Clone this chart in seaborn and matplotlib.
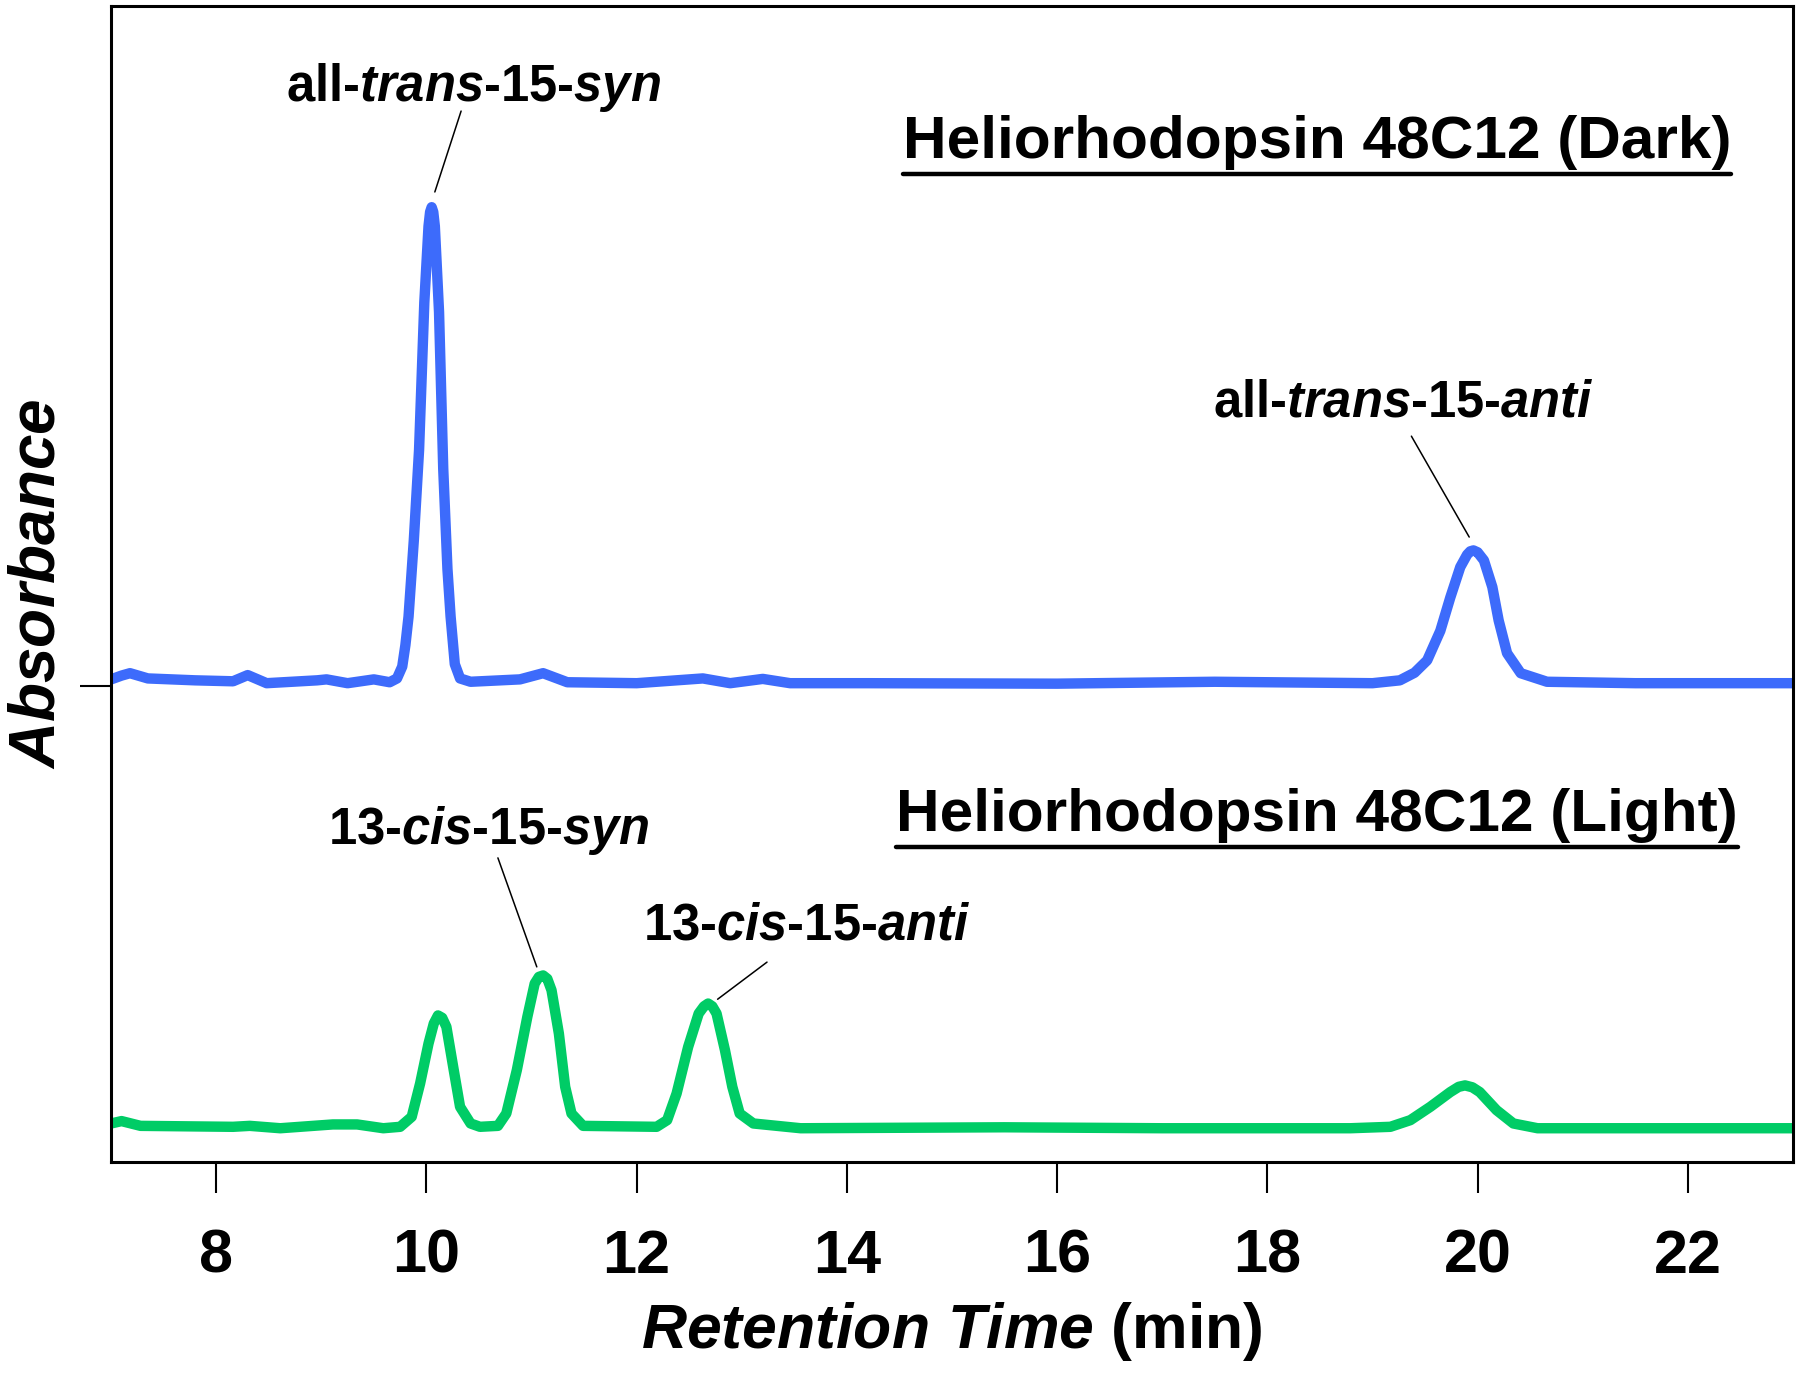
import matplotlib
matplotlib.use('Agg')
import matplotlib.pyplot as plt
import seaborn as sns
from matplotlib.lines import Line2D

# Chromatogram traces (retention time in min, absorbance in a.u.)
dark_time = [7.00, 7.10, 7.18, 7.35, 7.80, 8.16, 8.30, 8.48, 8.96, 9.05, 9.25,
             9.50, 9.65, 9.72, 9.77, 9.80, 9.83, 9.88, 9.93, 9.98, 10.02,
             10.035, 10.05, 10.065, 10.08, 10.12, 10.16, 10.20, 10.23, 10.27,
             10.32, 10.42, 10.89, 11.11, 11.34, 12.00, 12.63, 12.89, 13.20,
             13.46, 14.20, 16.00, 17.50, 19.00, 19.26, 19.40, 19.52, 19.645,
             19.74, 19.835, 19.90, 19.93, 19.96, 20.00, 20.06, 20.14, 20.20,
             20.28, 20.41, 20.66, 21.50, 23.00]
dark_abs = [0.008, 0.016, 0.021, 0.010, 0.006, 0.004, 0.017, 0.000, 0.006,
            0.008, 0.000, 0.008, 0.002, 0.010, 0.035, 0.080, 0.140, 0.300,
            0.490, 0.800, 0.960, 0.990, 1.000, 0.990, 0.960, 0.780, 0.450,
            0.240, 0.140, 0.040, 0.010, 0.003, 0.008, 0.021, 0.002, 0.000,
            0.010, 0.000, 0.009, 0.000, 0.000, -0.001, 0.003, 0.000, 0.006,
            0.022, 0.048, 0.110, 0.180, 0.244, 0.270, 0.277, 0.279, 0.275,
            0.258, 0.202, 0.132, 0.063, 0.021, 0.003, 0.000, 0.000]

light_time = [7.00, 7.10, 7.28, 8.16, 8.32, 8.61, 9.11, 9.34, 9.59, 9.75, 9.86,
              9.94, 10.02, 10.07, 10.11, 10.15, 10.19, 10.26, 10.32, 10.42,
              10.51, 10.68, 10.76, 10.86, 10.96, 11.03, 11.07, 11.11, 11.15,
              11.19, 11.26, 11.32, 11.38, 11.49, 12.19, 12.29, 12.38, 12.49,
              12.59, 12.64, 12.68, 12.72, 12.76, 12.84, 12.91, 12.98, 13.11,
              13.56, 15.50, 17.00, 18.79, 19.17, 19.36, 19.55, 19.74, 19.82,
              19.88, 19.95, 20.02, 20.18, 20.34, 20.57, 23.00]
light_abs = [0.010, 0.015, 0.005, 0.003, 0.005, 0.000, 0.008, 0.008, 0.000,
             0.003, 0.024, 0.094, 0.178, 0.220, 0.237, 0.232, 0.213, 0.122,
             0.045, 0.010, 0.003, 0.005, 0.031, 0.122, 0.234, 0.304, 0.318,
             0.321, 0.314, 0.290, 0.199, 0.087, 0.031, 0.005, 0.003, 0.017,
             0.073, 0.171, 0.241, 0.256, 0.262, 0.256, 0.241, 0.164, 0.087,
             0.031, 0.010, 0.000, 0.002, 0.000, 0.000, 0.003, 0.017, 0.045,
             0.076, 0.087, 0.090, 0.086, 0.076, 0.038, 0.010, 0.000, 0.000]

x_ticks = [8, 10, 12, 14, 16, 18, 20, 22]

# vertical offsets of the stacked traces
dark_offset = 1.006
light_offset = 0.071

sns.set_style('ticks')
plt.rcParams['font.family'] = ['Liberation Sans', 'DejaVu Sans']
plt.rcParams['font.weight'] = 'bold'
plt.rcParams['text.color'] = 'black'
plt.rcParams['axes.labelcolor'] = 'black'
plt.rcParams['xtick.color'] = 'black'
plt.rcParams['ytick.color'] = 'black'
plt.rcParams['mathtext.fontset'] = 'custom'
plt.rcParams['mathtext.rm'] = 'Liberation Sans:bold'
plt.rcParams['mathtext.it'] = 'Liberation Sans:italic:bold'
plt.rcParams['mathtext.bf'] = 'Liberation Sans:bold'

fig = plt.figure(figsize=(18, 13.76), dpi=100)
ax = fig.add_axes([0.0617, 0.1555, 0.9344, 0.8401])

sns.lineplot(x=dark_time, y=[v + dark_offset for v in dark_abs], ax=ax,
             color='#3D6BFB', linewidth=7.5, solid_joinstyle='round',
             solid_capstyle='round')
sns.lineplot(x=light_time, y=[v + light_offset for v in light_abs], ax=ax,
             color='#00CC66', linewidth=7.5, solid_joinstyle='round',
             solid_capstyle='round')

ax.set_xlim(7, 23)
ax.set_ylim(0, 2.4286)
ax.set_xticks(x_ticks)
ax.set_xticklabels([str(t) for t in x_ticks])
ax.set_yticks([1.0])
ax.set_yticklabels([''])
ax.tick_params(axis='both', direction='out', length=22, width=1.5,
               color='black', labelcolor='black')
ax.tick_params(axis='x', labelsize=44, pad=26)
for s in ax.spines.values():
  s.set_linewidth(2.2)
  s.set_color('black')

ax.set_xlabel(r'$\mathit{Retention\ Time}$ (min)', fontsize=45,
              fontweight='bold', labelpad=10, color='black')
ax.set_ylabel(r'$\mathit{Absorbance}$', fontsize=46, fontweight='bold',
              labelpad=6, color='black')

# peak labels and leader lines
peak_labels = [
    (r'all-$\mathit{trans}$-15-$\mathit{syn}$', 10.45, 2.229,
     (10.33, 2.208), (10.08, 2.038)),
    (r'all-$\mathit{trans}$-15-$\mathit{anti}$', 19.29, 1.567,
     (19.37, 1.525), (19.92, 1.313)),
    (r'13-$\mathit{cis}$-15-$\mathit{syn}$', 10.59, 0.668,
     (10.68, 0.639), (11.05, 0.410)),
    (r'13-$\mathit{cis}$-15-$\mathit{anti}$', 13.62, 0.468,
     (13.24, 0.420), (12.77, 0.342)),
]
for txt, tx, ty, p0, p1 in peak_labels:
  ax.text(tx, ty, txt, ha='center', va='baseline', fontsize=36.5,
          fontweight='bold', color='black')
  ax.plot([p0[0], p1[0]], [p0[1], p1[1]], color='black', linewidth=1.1)

titles = [
    ('Heliorhodopsin 48C12 (Dark)', 18.47, 2.109),
    ('Heliorhodopsin 48C12 (Light)', 18.47, 0.695),
]
title_texts = []
for txt, tx, ty in titles:
  title_texts.append(ax.text(tx, ty, txt, ha='center', va='baseline',
                             fontsize=43.5, fontweight='bold', color='black'))

# underline the two trace titles
fig.canvas.draw()
renderer = fig.canvas.get_renderer()
for t in title_texts:
  bb = t.get_window_extent(renderer=renderer)
  y = (bb.y0 - 4) / fig.bbox.height
  fig.add_artist(Line2D([bb.x0 / fig.bbox.width, bb.x1 / fig.bbox.width],
                        [y, y], color='black', linewidth=3.2))

fig.savefig('out.png', dpi=100)
